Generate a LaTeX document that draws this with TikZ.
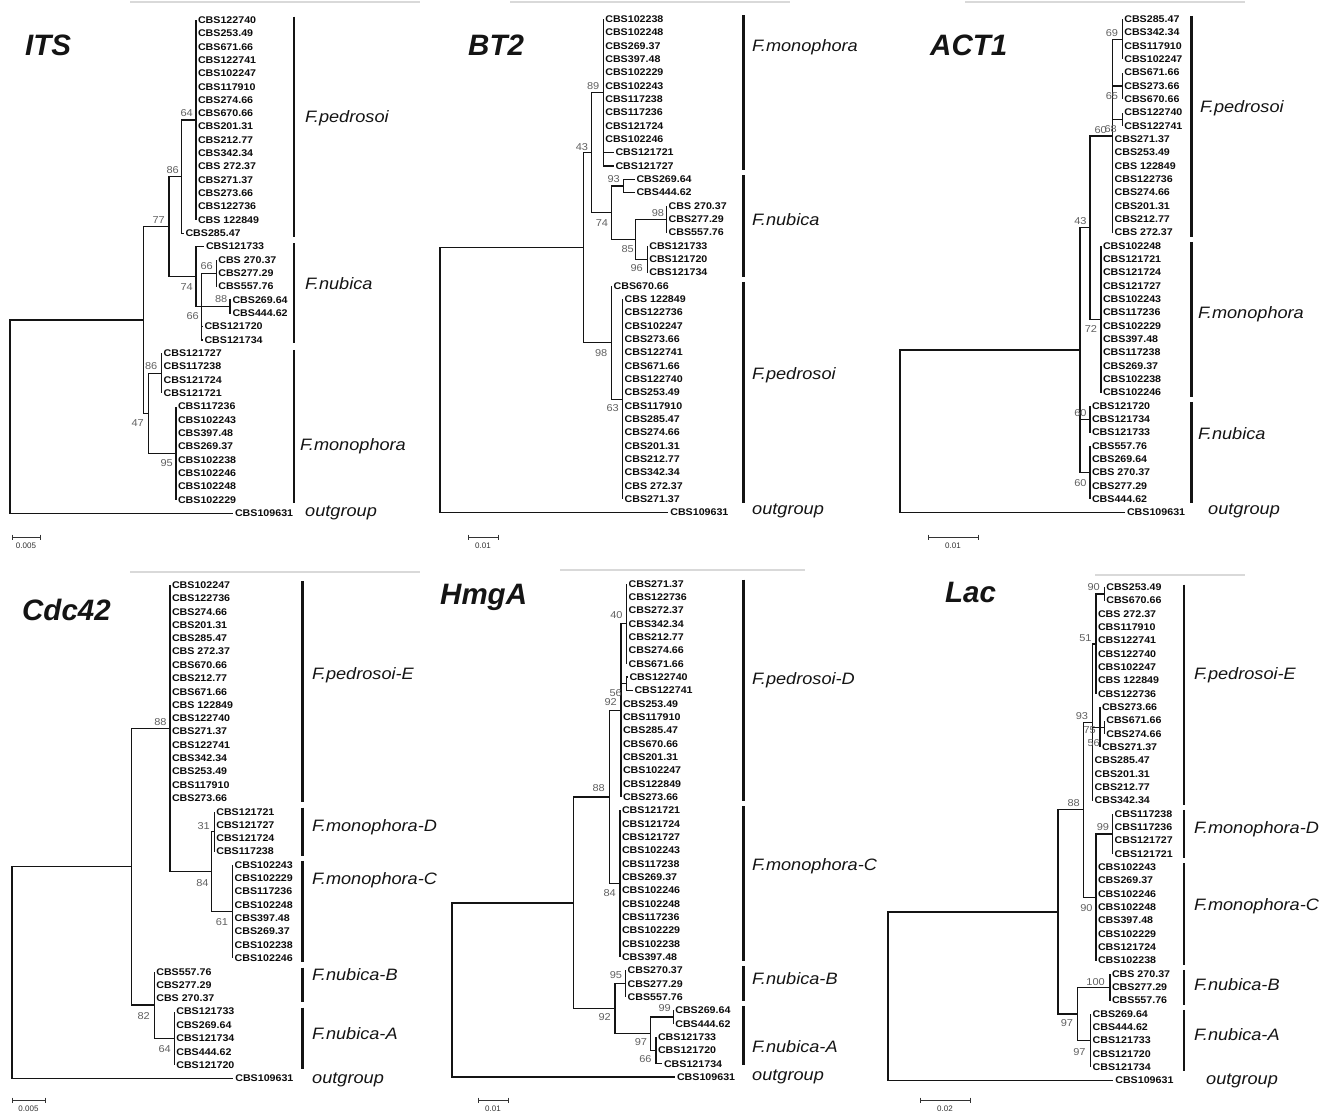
\documentclass[tikz,border=0pt]{standalone}
\usepackage{fontspec}
\setmainfont{Liberation Sans}
\newfontfamily\wfont[FakeStretch=1.1]{Liberation Sans}
\newcommand\lvbr[4]{\foreach \j in {#3,...,#4}{\draw[br] (#1) |- (#2\j.west);}}
\newcommand\ndbr[2]{\foreach \c in {#2}{\draw[br] (#1) |- (\c);}}
\newcommand\scb[5]{\coordinate (#1a) at (#2,#4); \coordinate (#1b) at (#3,#4);
 \draw[sbar] (#1a) -- (#1b);
 \draw[sbar] ([yshift=2.5pt]#1a) -- ([yshift=-2.5pt]#1a);
 \draw[sbar] ([yshift=2.5pt]#1b) -- ([yshift=-2.5pt]#1b);
 \node[slab] (#1t) at ({(#2+#3)/2},#4+9) {#5};}
\tikzset{
 lf/.style={anchor=west, inner xsep=1.8pt, inner ysep=0pt, text=black!95, font=\wfont\bfseries\fontsize{9.7}{11}\selectfont},
 bs/.style={anchor=east, inner sep=0pt, text=black!62, font=\wfont\fontsize{10}{11}\selectfont},
 br/.style={line width=1.25pt, draw=black!92},
 bar/.style={line width=2.8pt, draw=black!92},
 clade/.style={anchor=west, inner sep=0pt, text=black!92, font=\wfont\itshape\fontsize{16.5}{19}\selectfont},
 ttl/.style={anchor=west, inner sep=0pt, text=black!92, font=\bfseries\itshape\fontsize{29.5}{32}\selectfont},
 sbar/.style={line width=0.8pt, draw=black!80},
 slab/.style={inner sep=0pt, text=black!80, font=\fontsize{8}{9}\selectfont},
 topline/.style={line width=1.6pt, draw=black!15}
}
\begin{document}
\begin{tikzpicture}[x=1pt,y=-1pt]
\useasboundingbox[fill=white] (0,0) rectangle (1331,1115);
% top grey lines
\draw[topline] (130,2) -- (420,2);
\draw[topline] (510,2) -- (790,2);
\draw[topline] (965,2) -- (1245,2);
\draw[topline] (130,572) -- (420,572);
\draw[topline] (560,570) -- (805,570);
\draw[topline] (1095,575) -- (1245,575);
% titles
\node[ttl] (t1) at (25,45) {ITS};
\node[ttl] (t2) at (468,45) {BT2};
\node[ttl] (t3) at (930,45) {ACT1};
\node[ttl] (t4) at (22,610) {Cdc42};
\node[ttl] (t5) at (440,597) {HmgA};
\node[ttl] (t6) at (945,592) {Lac};

%================ ITS
\begin{scope}[y=-13.333pt, yshift=-20pt]
\foreach \x/\t [count=\i from 0] in {196/CBS122740,196/CBS253.49,196/CBS671.66,196/CBS122741,196/CBS102247,196/CBS117910,196/CBS274.66,196/CBS670.66,196/CBS201.31,196/CBS212.77,196/CBS342.34,196/CBS 272.37,196/CBS271.37,196/CBS273.66,196/CBS122736,196/CBS 122849,183.5/CBS285.47,204/CBS121733,216.3/CBS 270.37,216.3/CBS277.29,216.3/CBS557.76,230.5/CBS269.64,230.5/CBS444.62,202.5/CBS121720,202.5/CBS121734,161.7/CBS121727,161.7/CBS117238,161.7/CBS121724,161.7/CBS121721,176/CBS117236,176/CBS102243,176/CBS397.48,176/CBS269.37,176/CBS102238,176/CBS102246,176/CBS102248,176/CBS102229,233/CBS109631}
 {\node[lf] (its\i) at (\x,\i) {\t};}
\coordinate (itsA) at (196,7.5);
\coordinate (itsB) at (181.5,11.75);
\coordinate (itsC) at (169,15.5);
\coordinate (itsD) at (196,19.25);
\coordinate (itsH) at (216.3,19);
\coordinate (itsF) at (201.7,21.5);
\coordinate (itsG) at (230,21.5);
\coordinate (itsI) at (161.7,26.5);
\coordinate (itsJ) at (176,32.5);
\coordinate (itsK) at (148.3,29.5);
\coordinate (itsL) at (143.3,22.5);
\coordinate (itsR) at (10,29.75);
\lvbr{itsA}{its}{0}{15}
\ndbr{itsB}{itsA} \lvbr{itsB}{its}{16}{16}
\ndbr{itsC}{itsB,itsD}
\lvbr{itsD}{its}{17}{17} \ndbr{itsD}{itsF,itsG}
\ndbr{itsF}{itsH} \lvbr{itsF}{its}{23}{24}
\lvbr{itsH}{its}{18}{20}
\lvbr{itsG}{its}{21}{22}
\ndbr{itsL}{itsC,itsK}
\ndbr{itsK}{itsI,itsJ}
\lvbr{itsI}{its}{25}{28}
\lvbr{itsJ}{its}{29}{36}
\ndbr{itsR}{itsL} \lvbr{itsR}{its}{37}{37}
\draw[bar] (294,-0.25) -- (294,16.25);
\draw[bar] (294,16.75) -- (294,24.25);
\draw[bar] (294,24.75) -- (294,36.25);
\end{scope}
\foreach \x/\y/\t [count=\k] in {193/113/64,179/170/86,165/220/77,193/287/74,199/316/66,213/266/66,227.5/299.3/88,157.5/366/86,144/422.7/47,173/462.7/95}
 {\node[bs] (itsb\k) at (\x,\y) {\t};}
\node[clade] (itsc1) at (305,118) {F.pedrosoi};
\node[clade] (itsc2) at (305,284) {F.nubica};
\node[clade] (itsc3) at (300,446) {F.monophora};
\node[clade] (itsc4) at (305,513) {outgroup};
\scb{sba}{12}{40}{537}{0.005}

%================ BT2
\begin{scope}[y=-13.333pt, yshift=-19.3pt]
\foreach \x/\t [count=\i from 0] in {603.3/CBS102238,603.3/CBS102248,603.3/CBS269.37,603.3/CBS397.48,603.3/CBS102229,603.3/CBS102243,603.3/CBS117238,603.3/CBS117236,603.3/CBS121724,603.3/CBS102246,613.5/CBS121721,613.5/CBS121727,634.5/CBS269.64,634.5/CBS444.62,666.7/CBS 270.37,666.7/CBS277.29,666.7/CBS557.76,647.3/CBS121733,647.3/CBS121720,647.3/CBS121734,611.7/CBS670.66,622.7/CBS 122849,622.7/CBS122736,622.7/CBS102247,622.7/CBS273.66,622.7/CBS122741,622.7/CBS671.66,622.7/CBS122740,622.7/CBS253.49,622.7/CBS117910,622.7/CBS285.47,622.7/CBS274.66,622.7/CBS201.31,622.7/CBS212.77,622.7/CBS342.34,622.7/CBS 272.37,622.7/CBS271.37,668.3/CBS109631}
 {\node[lf] (bt\i) at (\x,\i) {\t};}
\coordinate (btM) at (603.3,5.5);
\coordinate (btN) at (591.7,10);
\coordinate (btQ) at (623.3,12.5);
\coordinate (btP) at (611.7,14.5);
\coordinate (btT) at (666.7,15);
\coordinate (btU) at (647.3,18);
\coordinate (btS) at (635.5,16.5);
\coordinate (btV) at (611.7,24.25);
\coordinate (btW) at (622.7,28.5);
\coordinate (btO) at (583.3,17.1);
\coordinate (btR) at (440,27.05);
\lvbr{btM}{bt}{0}{11}
\ndbr{btN}{btM,btP}
\ndbr{btP}{btQ,btS}
\lvbr{btQ}{bt}{12}{13}
\ndbr{btS}{btT,btU}
\lvbr{btT}{bt}{14}{16}
\lvbr{btU}{bt}{17}{19}
\ndbr{btO}{btN,btV}
\lvbr{btV}{bt}{20}{20} \ndbr{btV}{btW}
\lvbr{btW}{bt}{21}{36}
\ndbr{btR}{btO} \lvbr{btR}{bt}{37}{37}
\draw[bar] (743.3,-0.3) -- (743.3,11.3);
\draw[bar] (743.3,11.7) -- (743.3,19.3);
\draw[bar] (743.3,19.7) -- (743.3,36.3);
\end{scope}
\foreach \x/\y/\t [count=\k] in {599.5/86/89,588.3/146.7/43,620/179.3/93,608.3/223.3/74,664.3/212.7/98,634/249.3/85,643/268.3/96,607.5/352.7/98,619/408.3/63}
 {\node[bs] (btb\k) at (\x,\y) {\t};}
\node[clade] (btc1) at (752,47) {F.monophora};
\node[clade] (btc2) at (752,220) {F.nubica};
\node[clade] (btc3) at (752,375) {F.pedrosoi};
\node[clade] (btc4) at (752,511) {outgroup};
\scb{sbb}{468}{498}{537}{0.01}

%================ ACT1
\begin{scope}[y=-13.333pt, yshift=-19.3pt]
\foreach \x/\t [count=\i from 0] in {1122.3/CBS285.47,1122.3/CBS342.34,1122.3/CBS117910,1122.3/CBS102247,1122.3/CBS671.66,1122.3/CBS273.66,1122.3/CBS670.66,1122.3/CBS122740,1122.3/CBS122741,1112.7/CBS271.37,1112.7/CBS253.49,1112.7/CBS 122849,1112.7/CBS122736,1112.7/CBS274.66,1112.7/CBS201.31,1112.7/CBS212.77,1112.7/CBS 272.37,1101/CBS102248,1101/CBS121721,1101/CBS121724,1101/CBS121727,1101/CBS102243,1101/CBS117236,1101/CBS102229,1101/CBS397.48,1101/CBS117238,1101/CBS269.37,1101/CBS102238,1101/CBS102246,1090/CBS121720,1090/CBS121734,1090/CBS121733,1090/CBS557.76,1090/CBS269.64,1090/CBS 270.37,1090/CBS277.29,1090/CBS444.62,1125/CBS109631}
 {\node[lf] (ac\i) at (\x,\i) {\t};}
\coordinate (acA) at (1122.3,1.5);
\coordinate (acB) at (1122.3,5);
\coordinate (acC) at (1122.3,7.5);
\coordinate (acD) at (1112.7,8.75);
\coordinate (acG) at (1101,22.5);
\coordinate (acE) at (1090,15.625);
\coordinate (acH) at (1090,30);
\coordinate (acI) at (1090,34);
\coordinate (acF) at (1080,24.8);
\coordinate (acR) at (900,30.9);
\lvbr{acA}{ac}{0}{3} \lvbr{acB}{ac}{4}{6} \lvbr{acC}{ac}{7}{8}
\ndbr{acD}{acA,acB,acC} \lvbr{acD}{ac}{9}{16}
\ndbr{acE}{acD,acG} \lvbr{acG}{ac}{17}{28}
\lvbr{acH}{ac}{29}{31} \lvbr{acI}{ac}{32}{36}
\ndbr{acF}{acE,acH,acI}
\ndbr{acR}{acF} \lvbr{acR}{ac}{37}{37}
\draw[bar] (1191.7,-0.25) -- (1191.7,16.3);
\draw[bar] (1191.7,16.7) -- (1191.7,28.3);
\draw[bar] (1191.7,28.7) -- (1191.7,36.3);
\end{scope}
\foreach \x/\y/\t [count=\k] in {1118.3/33.3/69,1118.3/96/65,1107/130/60,1117/129/68,1086.7/220.7/43,1097.3/329.3/72,1086.7/412.7/60,1086.7/482.7/60}
 {\node[bs] (acb\k) at (\x,\y) {\t};}
\node[clade] (acc1) at (1200,108) {F.pedrosoi};
\node[clade] (acc2) at (1198,314) {F.monophora};
\node[clade] (acc3) at (1198,434) {F.nubica};
\node[clade] (acc4) at (1208,511) {outgroup};
\scb{sbc}{928}{978}{537}{0.01}

%================ Cdc42
\begin{scope}[y=-13.333pt, yshift=-585pt]
\foreach \x/\t [count=\i from 0] in {170/CBS102247,170/CBS122736,170/CBS274.66,170/CBS201.31,170/CBS285.47,170/CBS 272.37,170/CBS670.66,170/CBS212.77,170/CBS671.66,170/CBS 122849,170/CBS122740,170/CBS271.37,170/CBS122741,170/CBS342.34,170/CBS253.49,170/CBS117910,170/CBS273.66,214.3/CBS121721,214.3/CBS121727,214.3/CBS121724,214.3/CBS117238,232.7/CBS102243,232.7/CBS102229,232.7/CBS117236,232.7/CBS102248,232.7/CBS397.48,232.7/CBS269.37,232.7/CBS102238,232.7/CBS102246,154.3/CBS557.76,154.3/CBS277.29,154.3/CBS 270.37,174.3/CBS121733,174.3/CBS269.64,174.3/CBS121734,174.3/CBS444.62,174.3/CBS121720,233.3/CBS109631}
 {\node[lf] (cd\i) at (\x,\i) {\t};}
\coordinate (cdA) at (170,10.75);
\coordinate (cdB) at (211.7,21.5);
\coordinate (cdC) at (214.3,18.5);
\coordinate (cdD) at (232.7,24.5);
\coordinate (cdE) at (154.3,31.5);
\coordinate (cdF) at (174.3,34);
\coordinate (cdG) at (131.7,21.125);
\coordinate (cdR) at (12,29.06);
\lvbr{cdA}{cd}{0}{16} \ndbr{cdA}{cdB}
\ndbr{cdB}{cdC,cdD}
\lvbr{cdC}{cd}{17}{20} \lvbr{cdD}{cd}{21}{28}
\lvbr{cdE}{cd}{29}{31} \ndbr{cdE}{cdF}
\lvbr{cdF}{cd}{32}{36}
\ndbr{cdG}{cdA,cdE}
\ndbr{cdR}{cdG} \lvbr{cdR}{cd}{37}{37}
\draw[bar] (302.7,-0.3) -- (302.7,16.3);
\draw[bar] (302.7,16.7) -- (302.7,20.3);
\draw[bar] (302.7,20.7) -- (302.7,28.3);
\draw[bar] (302.7,28.7) -- (302.7,31.3);
\draw[bar] (302.7,31.7) -- (302.7,36.3);
\end{scope}
\foreach \x/\y/\t [count=\k] in {166.7/721.7/88,210/826/31,208.7/882.7/84,228.3/921.7/61,150/1016/82,171/1048.7/64}
 {\node[bs] (cdb\k) at (\x,\y) {\t};}
\node[clade] (cdc1) at (312,675) {F.pedrosoi-E};
\node[clade] (cdc2) at (312,827) {F.monophora-D};
\node[clade] (cdc3) at (312,880) {F.monophora-C};
\node[clade] (cdc4) at (312,975) {F.nubica-B};
\node[clade] (cdc5) at (312,1034) {F.nubica-A};
\node[clade] (cdc6) at (312,1080) {outgroup};
\scb{sbd}{12}{45}{1100}{0.005}

%================ HmgA
\begin{scope}[y=-13.333pt, yshift=-583.7pt]
\foreach \x/\t [count=\i from 0] in {626.7/CBS271.37,626.7/CBS122736,626.7/CBS272.37,626.7/CBS342.34,626.7/CBS212.77,626.7/CBS274.66,626.7/CBS671.66,627.5/CBS122740,632.5/CBS122741,621/CBS253.49,621/CBS117910,621/CBS285.47,621/CBS670.66,621/CBS201.31,621/CBS102247,621/CBS122849,621/CBS273.66,620/CBS121721,620/CBS121724,620/CBS121727,620/CBS102243,620/CBS117238,620/CBS269.37,620/CBS102246,620/CBS102248,620/CBS117236,620/CBS102229,620/CBS102238,620/CBS397.48,625.7/CBS270.37,625.7/CBS277.29,625.7/CBS557.76,673.3/CBS269.64,673.3/CBS444.62,656/CBS121733,656/CBS121720,662/CBS121734,675/CBS109631}
 {\node[lf] (hm\i) at (\x,\i) {\t};}
\coordinate (hmA) at (626.7,3);
\coordinate (hmB) at (626.7,7.5);
\coordinate (hmC) at (621,9.5);
\coordinate (hmD) at (609.3,16);
\coordinate (hmE) at (620,22.5);
\coordinate (hmF) at (625.7,30);
\coordinate (hmH) at (673.3,32.5);
\coordinate (hmI) at (656,35);
\coordinate (hmG) at (650.7,33.75);
\coordinate (hmJ) at (615,31.875);
\coordinate (hmK) at (573.3,23.94);
\coordinate (hmR) at (452,30.47);
\lvbr{hmA}{hm}{0}{6} \lvbr{hmB}{hm}{7}{8}
\ndbr{hmC}{hmA,hmB} \lvbr{hmC}{hm}{9}{16}
\ndbr{hmD}{hmC,hmE} \lvbr{hmE}{hm}{17}{28}
\lvbr{hmF}{hm}{29}{31}
\lvbr{hmH}{hm}{32}{33} \lvbr{hmI}{hm}{34}{36}
\ndbr{hmG}{hmH,hmI}
\ndbr{hmJ}{hmF,hmG}
\ndbr{hmK}{hmD,hmJ}
\ndbr{hmR}{hmK} \lvbr{hmR}{hm}{37}{37}
\draw[bar] (743.3,-0.3) -- (743.3,16.3);
\draw[bar] (743.3,16.7) -- (743.3,28.3);
\draw[bar] (743.3,28.7) -- (743.3,31.3);
\draw[bar] (743.3,31.7) -- (743.3,36.1);
\end{scope}
\foreach \x/\y/\t [count=\k] in {622.7/615/40,622/692.7/56,617/702.3/92,605/788.3/88,616/892.7/84,622.3/975/95,671/1008.3/99,611/1017.3/92,647.3/1041.7/97,651.7/1059.3/66}
 {\node[bs] (hmb\k) at (\x,\y) {\t};}
\node[clade] (hmc1) at (752,680) {F.pedrosoi-D};
\node[clade] (hmc2) at (752,866) {F.monophora-C};
\node[clade] (hmc3) at (752,979) {F.nubica-B};
\node[clade] (hmc4) at (752,1047) {F.nubica-A};
\node[clade] (hmc5) at (752,1077) {outgroup};
\scb{sbe}{478}{508}{1100}{0.01}

%================ Lac
\begin{scope}[y=-13.333pt, yshift=-587.3pt]
\foreach \x/\t [count=\i from 0] in {1104.3/CBS253.49,1104.3/CBS670.66,1096/CBS 272.37,1096/CBS117910,1096/CBS122741,1096/CBS122740,1096/CBS102247,1096/CBS 122849,1096/CBS122736,1100/CBS273.66,1104.3/CBS671.66,1104.3/CBS274.66,1100/CBS271.37,1092.7/CBS285.47,1092.7/CBS201.31,1092.7/CBS212.77,1092.7/CBS342.34,1112.7/CBS117238,1112.7/CBS117236,1112.7/CBS121727,1112.7/CBS121721,1096/CBS102243,1096/CBS269.37,1096/CBS102246,1096/CBS102248,1096/CBS397.48,1096/CBS102229,1096/CBS121724,1096/CBS102238,1110/CBS 270.37,1110/CBS277.29,1110/CBS557.76,1090.7/CBS269.64,1090.7/CBS444.62,1090.7/CBS121733,1090.7/CBS121720,1090.7/CBS121734,1113.3/CBS109631}
 {\node[lf] (lc\i) at (\x,\i) {\t};}
\coordinate (lcA) at (1104.3,0.5);
\coordinate (lcB) at (1096,4.25);
\coordinate (lcDD) at (1104.3,10.5);
\coordinate (lcC) at (1100,10.5);
\coordinate (lcE) at (1092.7,10.125);
\coordinate (lcH) at (1112.7,18.5);
\coordinate (lcG) at (1096,23.25);
\coordinate (lcF) at (1083.5,16.69);
\coordinate (lcI) at (1110,30);
\coordinate (lcJ) at (1090.7,34);
\coordinate (lcK) at (1077.3,32);
\coordinate (lcL) at (1058,24.35);
\coordinate (lcR) at (888,30.68);
\lvbr{lcA}{lc}{0}{1}
\ndbr{lcB}{lcA} \lvbr{lcB}{lc}{2}{8}
\lvbr{lcDD}{lc}{10}{11}
\lvbr{lcC}{lc}{9}{9} \ndbr{lcC}{lcDD} \lvbr{lcC}{lc}{12}{12}
\ndbr{lcE}{lcB,lcC} \lvbr{lcE}{lc}{13}{16}
\lvbr{lcH}{lc}{17}{20}
\ndbr{lcG}{lcH} \lvbr{lcG}{lc}{21}{28}
\ndbr{lcF}{lcE,lcG}
\lvbr{lcI}{lc}{29}{31} \lvbr{lcJ}{lc}{32}{36}
\ndbr{lcK}{lcI,lcJ}
\ndbr{lcL}{lcF,lcK}
\ndbr{lcR}{lcL} \lvbr{lcR}{lc}{37}{37}
\draw[bar] (1184,-0.2) -- (1184,16.3);
\draw[bar] (1184,16.7) -- (1184,20.3);
\draw[bar] (1184,20.7) -- (1184,28.3);
\draw[bar] (1184,28.7) -- (1184,31.3);
\draw[bar] (1184,31.7) -- (1184,36.3);
\end{scope}
\foreach \x/\y/\t [count=\k] in {1100/587.3/90,1091.7/638.3/51,1088.3/716/93,1096/730/75,1100/743.3/56,1080/803.3/88,1109.3/827.3/99,1092.7/908.3/90,1105/981.7/100,1073.3/1023.3/97,1085.7/1051.7/97}
 {\node[bs] (lcb\k) at (\x,\y) {\t};}
\node[clade] (lcc1) at (1194,675) {F.pedrosoi-E};
\node[clade] (lcc2) at (1194,829) {F.monophora-D};
\node[clade] (lcc3) at (1194,906) {F.monophora-C};
\node[clade] (lcc4) at (1194,985) {F.nubica-B};
\node[clade] (lcc5) at (1194,1035) {F.nubica-A};
\node[clade] (lcc6) at (1206,1081) {outgroup};
\scb{sbf}{920}{970}{1100}{0.02}
\end{tikzpicture}
\end{document}
